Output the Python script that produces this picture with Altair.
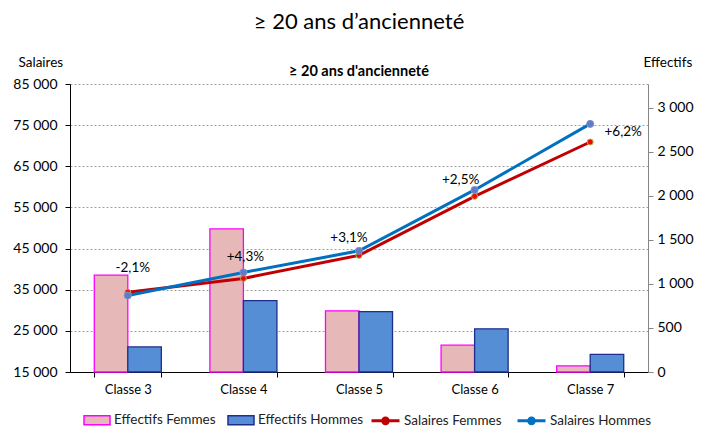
import altair as alt
import pandas as pd

classes = ["Classe 3", "Classe 4", "Classe 5", "Classe 6", "Classe 7"]
effectifs_femmes = [1100, 1625, 695, 305, 70]
effectifs_hommes = [285, 810, 685, 490, 200]
salaires_femmes = [34400, 37750, 43350, 57700, 70900]
salaires_hommes = [33600, 39200, 44450, 59250, 75300]
ecarts = ["-2,1%", "+4,3%", "+3,1%", "+2,5%", "+6,2%"]

eff_series = ["Effectifs Femmes", "Effectifs Hommes"]
sal_series = ["Salaires Femmes", "Salaires Hommes"]
left_ticks = [15000, 25000, 35000, 45000, 55000, 65000, 75000, 85000]
right_ticks = [0, 500, 1000, 1500, 2000, 2500, 3000]

FONT = "Lato"

df_eff = pd.DataFrame(
    [{"classe": c, "serie": eff_series[0], "effectif": v} for c, v in zip(classes, effectifs_femmes)]
    + [{"classe": c, "serie": eff_series[1], "effectif": v} for c, v in zip(classes, effectifs_hommes)]
)
df_sal = pd.DataFrame(
    [{"classe": c, "serie": sal_series[0], "salaire": v} for c, v in zip(classes, salaires_femmes)]
    + [{"classe": c, "serie": sal_series[1], "salaire": v} for c, v in zip(classes, salaires_hommes)]
)
df_lab = pd.DataFrame({"classe": classes, "salaire": salaires_hommes, "ecart": ecarts})

x_scale = alt.Scale(domain=classes, paddingInner=0.42, paddingOuter=0.21)
x_axis = alt.Axis(
    title=None, labelAngle=0, labelFont=FONT, labelFontSize=13, labelColor="black",
    domainColor="black", tickColor="black", tickSize=5, tickBand="extent",
    labelPadding=6,
)
x_enc = alt.X("classe:N", scale=x_scale, sort=classes, axis=x_axis)

sal_scale = alt.Scale(domain=[15000, 85000], nice=False, zero=False)
sal_axis = alt.Axis(
    orient="left", values=left_ticks, grid=True,
    gridColor="#A0A0A0", gridDash=[2, 2], gridWidth=1,
    labelExpr="replace(format(datum.value, ','), ',', ' ')",
    labelFont=FONT, labelFontSize=14, labelColor="black",
    domainColor="black", tickColor="black", tickSize=5, labelPadding=8,
    title="Salaires", titleAngle=0, titleAlign="left", titleBaseline="middle",
    titleX=-52, titleY=-22, titleFont=FONT, titleFontSize=13.5,
    titleFontWeight="normal", titleColor="black",
)
y_sal = alt.Y("salaire:Q", scale=sal_scale, axis=sal_axis)

legend_common = dict(
    title=None, orient="none", direction="horizontal",
    labelFont=FONT, labelFontSize=13.5, labelColor="#222",
    labelOffset=3, columnPadding=9, padding=0,
)

bar_legend = alt.Legend(
    legendX=13, legendY=322,
    symbolType="M-1,-0.35H1V0.35H-1Z", symbolSize=676, symbolStrokeWidth=1.5,
    **legend_common,
)

bars = alt.Chart(df_eff).mark_bar(strokeWidth=1.3).encode(
    x=x_enc,
    xOffset=alt.XOffset("serie:N", sort=eff_series,
                        scale=alt.Scale(domain=eff_series, paddingInner=0, paddingOuter=0)),
    y=alt.Y("effectif:Q", scale=alt.Scale(domain=[0, 3270], nice=False),
            axis=alt.Axis(
                orient="right", values=right_ticks, grid=False,
                labelExpr="replace(format(datum.value, ','), ',', ' ')",
                labelFont=FONT, labelFontSize=14, labelColor="black",
                domainColor="#868686", tickColor="#868686", tickSize=5, labelPadding=4,
                title="Effectifs", titleAngle=0, titleAlign="left", titleBaseline="middle",
                titleX=-5, titleY=-22, titleFont=FONT, titleFontSize=13.5,
                titleFontWeight="normal", titleColor="black",
            )),
    fill=alt.Fill("serie:N", scale=alt.Scale(domain=eff_series, range=["#E6B9B8", "#558ED5"]),
                  legend=bar_legend),
    stroke=alt.Stroke("serie:N", scale=alt.Scale(domain=eff_series, range=["#FF00FF", "#1F2D8C"]),
                      legend=bar_legend),
)

lines = alt.Chart(df_sal).mark_line(strokeWidth=3).encode(
    x=x_enc,
    y=y_sal,
    color=alt.Color("serie:N", scale=alt.Scale(domain=sal_series, range=["#C00000", "#0070C0"]),
                    legend=alt.Legend(
                        legendX=300, legendY=321,
                        symbolType="M-1,0H1M0.2,0A0.2,0.2,0,1,1,-0.2,0A0.2,0.2,0,1,1,0.2,0",
                        symbolSize=784, symbolStrokeWidth=3,
                        **legend_common,
                    )),
)

pts_f = alt.Chart(df_sal).transform_filter(alt.datum.serie == sal_series[0]).mark_point(
    filled=True, fill="#FF0000", stroke="#9BBB59", strokeWidth=1, size=36, opacity=1
).encode(x=x_enc, y=y_sal)

pts_h = alt.Chart(df_sal).transform_filter(alt.datum.serie == sal_series[1]).mark_point(
    filled=True, fill="#5F7DC2", stroke="#7F8FD0", strokeWidth=1, size=50, opacity=1
).encode(x=x_enc, y=y_sal)

label_offsets = {
    "Classe 3": (5, -27),
    "Classe 4": (2, -15),
    "Classe 5": (-10, -13),
    "Classe 6": (-14, -10),
    "Classe 7": (33, 8),
}
label_layers = []
for c, (ddx, ddy) in label_offsets.items():
    label_layers.append(
        alt.Chart(df_lab).transform_filter(alt.datum.classe == c).mark_text(
            font=FONT, fontSize=13.5, color="black", dx=ddx, dy=ddy, align="center", baseline="middle"
        ).encode(x=x_enc, y=y_sal, text="ecart:N")
    )

sal_layer = alt.layer(lines, pts_f, pts_h, *label_layers)

chart = alt.layer(bars, sal_layer).resolve_scale(
    y="independent", color="independent", fill="independent", stroke="independent"
).properties(
    width=578, height=288,
    padding={"left": 62, "top": 76, "right": 56, "bottom": 57},
    autosize=alt.AutoSizeParams(type="none"),
    title=alt.Title(
        "≥ 20 ans d’ancienneté",
        subtitle="≥ 20 ans d'ancienneté",
        font=FONT, fontSize=22, fontWeight="normal", color="black",
        subtitleFont=FONT, subtitleFontSize=14.5, subtitleFontWeight="bold", subtitleColor="black",
        anchor="middle", offset=-24, subtitlePadding=31,
    ),
).configure_view(stroke=None)

chart.save("out.html", embed_options={"renderer": "svg", "actions": False})
